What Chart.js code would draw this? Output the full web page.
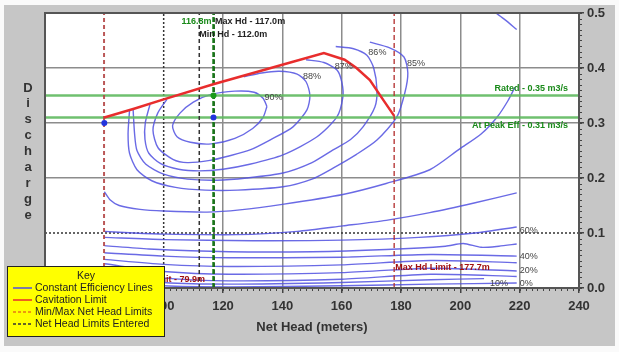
<!DOCTYPE html>
<html>
<head>
<meta charset="utf-8">
<script src="https://cdn.jsdelivr.net/npm/chart.js@4.4.0/dist/chart.umd.min.js"></script>
<style>
  html, body { margin: 0; padding: 0; background: #fff; }
  #wrap { width: 619px; height: 352px; position: relative; }
</style>
</head>
<body>
<div id="wrap"><canvas id="hill"></canvas></div>
<script>
// axis ticks
const headTicks = [60, 80, 100, 120, 140, 160, 180, 200, 220, 240];
const flowTicks = [0, 0.1, 0.2, 0.3, 0.4, 0.5];

// limits (m, m3/s)
const minHdLimit = 79.9;
const maxHdLimit = 177.7;
const minHdEntered = 112.0;
const maxHdEntered = 117.0;
const ratedHead = 116.8;
const ratedFlow = 0.35;
const peakEffFlow = 0.31;

// cavitation limit [head, discharge]
const cavitation = [[80,0.31],[90,0.326],[100,0.343],[117,0.371],[140,0.406],[154,0.427],[161,0.415],[165,0.4],[169.5,0.378],[174,0.342],[177.7,0.313]];

// constant efficiency lines [head, discharge]
const eff90 = [[134.8,0.33],[133.5,0.345],[130.5,0.356],[124,0.358],[116,0.352],[110,0.338],[105.5,0.318],[103,0.295],[104.5,0.275],[109,0.265],[116,0.262],[124,0.272],[130,0.29],[133.5,0.31],[134.8,0.33]];
const eff88 = [[101.1,0.343],[98,0.318],[96.4,0.287],[98.1,0.255],[103.1,0.234],[108,0.228],[115.6,0.232],[122,0.24],[129.1,0.251],[135.8,0.269],[143.6,0.293],[148.3,0.324],[149.3,0.35],[148,0.375],[145,0.389],[139,0.394],[133,0.391],[127,0.384]];
const eff87 = [[95.4,0.334],[93.8,0.3],[93.7,0.27],[95,0.245],[99,0.226],[105,0.216],[112,0.213],[120,0.216],[129,0.225],[140.2,0.242],[151.7,0.275],[158.4,0.311],[160.4,0.347],[160.1,0.373],[158.5,0.396],[154,0.41],[148,0.415]];
const eff86 = [[89.7,0.325],[90.2,0.28],[91,0.25],[94,0.225],[100,0.207],[108,0.198],[118,0.196],[128,0.2],[140.2,0.209],[150,0.228],[157.1,0.251],[163,0.27],[167.2,0.293],[171.2,0.329],[171.9,0.36],[170.8,0.4],[168.5,0.423],[164,0.435],[158,0.439]];
const eff85 = [[88.5,0.323],[88,0.28],[88.5,0.245],[91,0.215],[96,0.195],[104,0.183],[114,0.178],[125,0.178],[140.2,0.184],[150,0.198],[157.1,0.218],[165,0.243],[171.9,0.269],[178.6,0.311],[181.3,0.355],[182.3,0.391],[181,0.42],[176,0.437],[169.5,0.447]];
const eff80 = [[80,0.175],[82,0.16],[85,0.15],[92,0.143],[100,0.14],[114.6,0.138],[125.7,0.142],[140,0.152],[160.4,0.17],[175,0.19],[189.7,0.215],[199.8,0.253],[207,0.28],[212.3,0.31],[216,0.34],[218.4,0.365]];
const eff75 = [[212,0.5],[215,0.488],[219,0.47]];
const eff70 = [[80,0.103],[90,0.1],[100,0.098],[125,0.097],[145,0.103],[160.4,0.113],[175,0.123],[189.7,0.137],[205,0.155],[219,0.173]];
const eff60 = [[80,0.092],[100,0.088],[130,0.086],[160,0.087],[186,0.092],[205,0.1],[219,0.111]];
const eff50 = [[80,0.077],[95,0.071],[122,0.066],[150,0.066],[175,0.07],[195,0.076],[201,0.081],[207,0.074],[213,0.076],[219,0.08]];
const eff40 = [[80,0.064],[100,0.058],[122,0.055],[160,0.056],[190,0.061],[219,0.058]];
const eff30 = [[80,0.052],[100,0.043],[122,0.039],[160,0.042],[190,0.05],[219,0.046]];
const eff20 = [[80,0.044],[100,0.03],[122,0.025],[160,0.028],[190,0.036],[219,0.031]];
const eff15 = [[80,0.032],[100,0.018],[122,0.013],[160,0.016],[190,0.025],[219,0.021]];
const eff10 = [[80,0.022],[100,0.01],[122,0.007],[160,0.01],[190,0.015],[208,0.017]];
const eff0 = [[80,0.014],[100,0.004],[122,0.002],[160,0.004],[190,0.007],[219,0.009]];

// efficiency labels and where they sit [head, discharge]
const effLabels = ['90%', '88%', '87%', '86%', '85%', '60%', '40%', '20%', '0%', '10%'];
const effLabelAt = [[134,0.347],[147,0.384],[157.7,0.402],[169,0.428],[182,0.409],[220,0.105],[220,0.058],[220,0.031],[220,0.009],[210,0.009]];

const pts = arr => arr.map(([x, y]) => ({ x, y }));
const vline = v => pts([[v, 0], [v, 0.5]]);
const hline = v => pts([[60, v], [240, v]]);

function series(data, color, width, dash, order, tension) {
  return {
    data: data, showLine: true, fill: false,
    borderColor: color, borderWidth: width, borderDash: dash || [],
    pointRadius: 0, tension: tension || 0, order: order
  };
}

const blue = 'rgba(80,80,225,0.85)';
const contours = [eff90, eff88, eff87, eff86, eff85, eff80, eff75, eff70, eff60, eff50, eff40, eff30, eff20, eff15, eff10, eff0];

const datasets = [
  series(vline(100), '#333', 1.5, [2, 2], 50),
  series(hline(0.1), '#333', 1.5, [2, 2], 50),
  ...contours.map(c => series(pts(c), blue, 1.4, [], 40, 0.25)),
  series(hline(ratedFlow), 'rgba(95,185,95,0.9)', 2.5, [], 30),
  series(hline(peakEffFlow), 'rgba(95,185,95,0.9)', 2.5, [], 30),
  series(vline(minHdEntered), '#333', 1.5, [4, 3], 20),
  series(vline(maxHdEntered), '#333', 1.5, [4, 3], 20),
  series(vline(ratedHead), 'rgba(20,120,20,0.95)', 2.5, [5, 2], 15),
  series(vline(minHdLimit), 'rgba(180,70,70,0.9)', 2, [4, 3], 20),
  series(vline(maxHdLimit), 'rgba(180,50,50,0.9)', 1.5, [5, 3], 20),
  series(pts(cavitation), 'rgb(232,45,45)', 2.5, [], 10),
  {
    data: pts([[ratedHead, ratedFlow]]), showLine: false, order: 5,
    pointRadius: 3, pointBackgroundColor: '#1a9a1a', pointBorderWidth: 0
  },
  {
    data: pts([[ratedHead, peakEffFlow], [80, 0.3]]), showLine: false, order: 5,
    pointRadius: 3, pointBackgroundColor: '#2233dd', pointBorderWidth: 0
  }
];

const extras = {
  id: 'extras',
  beforeDraw(chart) {
    const c = chart.ctx, a = chart.chartArea;
    c.save();
    c.fillStyle = '#fafafa';
    c.fillRect(0, 0, chart.width, chart.height);
    c.fillStyle = '#c6c6c6';
    c.fillRect(4, 5, 611, 341);
    c.fillStyle = '#fff';
    c.fillRect(a.left, a.top, a.right - a.left, a.bottom - a.top);
    c.restore();
  },
  afterDatasetsDraw(chart) {
    const c = chart.ctx, a = chart.chartArea;
    const X = v => chart.scales.x.getPixelForValue(v);
    const Y = v => chart.scales.y.getPixelForValue(v);
    c.save();
    // minor ticks
    c.strokeStyle = '#444';
    c.lineWidth = 1;
    c.beginPath();
    for (let h = 60; h <= 240; h += 2) {
      c.moveTo(Math.round(X(h)) + 0.5, a.bottom);
      c.lineTo(Math.round(X(h)) + 0.5, a.bottom + 3);
    }
    for (let q = 0; q <= 50; q++) {
      c.moveTo(a.right, Math.round(Y(q / 100)) + 0.5);
      c.lineTo(a.right + 3, Math.round(Y(q / 100)) + 0.5);
    }
    c.stroke();
    // frame
    c.strokeStyle = '#555';
    c.lineWidth = 2;
    c.strokeRect(a.left, a.top, a.right - a.left, a.bottom - a.top);

    // efficiency labels
    c.font = '9px "Liberation Sans", Arial, sans-serif';
    c.fillStyle = '#444';
    c.textBaseline = 'middle';
    c.textAlign = 'left';
    effLabels.forEach((t, i) => {
      c.fillText(t, X(effLabelAt[i][0]), Y(effLabelAt[i][1]));
    });

    // limit labels
    c.font = 'bold 9px "Liberation Sans", Arial, sans-serif';
    c.fillStyle = '#1a8a1a';
    c.textAlign = 'right';
    c.fillText(ratedHead.toFixed(1) + 'm', X(ratedHead) - 2, a.top + 9);
    c.fillStyle = '#222';
    c.textAlign = 'left';
    c.fillText('Max Hd - ' + maxHdEntered.toFixed(1) + 'm', X(maxHdEntered) + 1, a.top + 9);
    c.fillText('Min Hd - ' + minHdEntered.toFixed(1) + 'm', X(minHdEntered), a.top + 22);
    c.fillStyle = '#1a8a1a';
    c.textAlign = 'right';
    c.fillText('Rated - ' + ratedFlow.toFixed(2) + ' m3/s', a.right - 11, Y(ratedFlow) - 7);
    c.fillText('At Peak Eff - ' + peakEffFlow.toFixed(2) + ' m3/s', a.right - 11, Y(peakEffFlow) + 8);
    c.fillStyle = '#a01010';
    c.textAlign = 'left';
    c.fillText('Max Hd Limit - ' + maxHdLimit.toFixed(1) + 'm', X(maxHdLimit) + 1, Y(0.038));
    c.textAlign = 'right';
    c.fillText('Min Hd Limit - ' + minHdLimit.toFixed(1) + 'm', X(minHdLimit) + 101, Y(0.015));
    c.restore();
  },
  afterDraw(chart) {
    const c = chart.ctx, a = chart.chartArea;
    c.save();
    // axis titles
    c.fillStyle = '#333';
    c.font = 'bold 13px "Liberation Sans", Arial, sans-serif';
    c.textAlign = 'center';
    c.textBaseline = 'middle';
    c.fillText('Net Head (meters)', (a.left + a.right) / 2, 327);
    'Discharge'.split('').forEach((ch, i) => c.fillText(ch, 28, 88 + i * 15.9));

    // key
    c.fillStyle = '#ffff00';
    c.fillRect(7, 266, 158, 71);
    c.strokeStyle = '#222';
    c.lineWidth = 1;
    c.strokeRect(7.5, 266.5, 157, 70);
    c.font = '10.5px "Liberation Sans", Arial, sans-serif';
    c.fillStyle = '#222';
    c.fillText('Key', 86, 276);
    const rows = [
      ['Constant Efficiency Lines', 'rgb(80,80,225)', []],
      ['Cavitation Limit', 'rgb(232,45,45)', []],
      ['Min/Max Net Head Limits', 'rgb(230,120,20)', [3, 2]],
      ['Net Head Limits Entered', '#333', [3, 2]]
    ];
    c.textAlign = 'left';
    rows.forEach(([t, col, dash], i) => {
      const yy = 288 + i * 12;
      c.strokeStyle = col;
      c.lineWidth = 1.5;
      c.setLineDash(dash);
      c.beginPath();
      c.moveTo(13, yy);
      c.lineTo(32, yy);
      c.stroke();
      c.setLineDash([]);
      c.fillStyle = '#222';
      c.fillText(t, 35, yy);
    });
    c.restore();
  }
};

new Chart(document.getElementById('hill'), {
  type: 'scatter',
  data: { datasets: datasets },
  options: {
    responsive: true,
    maintainAspectRatio: false,
    animation: false,
    layout: { padding: { left: 45, top: 13, right: 0, bottom: 0 } },
    plugins: { legend: { display: false }, tooltip: { enabled: false } },
    scales: {
      x: {
        type: 'linear', position: 'bottom', min: 60, max: 240,
        afterBuildTicks: s => { s.ticks = headTicks.map(v => ({ value: v })); },
        afterFit: s => { s.height = 64; },
        grid: {
          color: ctx => (ctx.tick && ctx.tick.value >= 120 && ctx.tick.value <= 220) ? '#8c8c8c' : 'rgba(0,0,0,0)',
          lineWidth: 1.5, tickLength: 5, tickColor: '#444'
        },
        border: { display: false },
        ticks: {
          color: '#333', padding: 6,
          font: { family: '"Liberation Sans", Arial, sans-serif', size: 13, weight: 'bold' },
          callback: v => String(v)
        }
      },
      y: {
        type: 'linear', position: 'right', min: 0, max: 0.5,
        afterBuildTicks: s => { s.ticks = flowTicks.map(v => ({ value: v })); },
        afterFit: s => { s.width = 40; },
        grid: {
          color: ctx => (ctx.tick && ctx.tick.value > 0.15 && ctx.tick.value < 0.45) ? '#8c8c8c' : 'rgba(0,0,0,0)',
          lineWidth: 1.5, tickLength: 5, tickColor: '#444'
        },
        border: { display: false },
        ticks: {
          color: '#333', padding: 3,
          font: { family: '"Liberation Sans", Arial, sans-serif', size: 13, weight: 'bold' },
          callback: v => v.toFixed(1)
        }
      }
    }
  },
  plugins: [extras]
});
</script>
</body>
</html>
